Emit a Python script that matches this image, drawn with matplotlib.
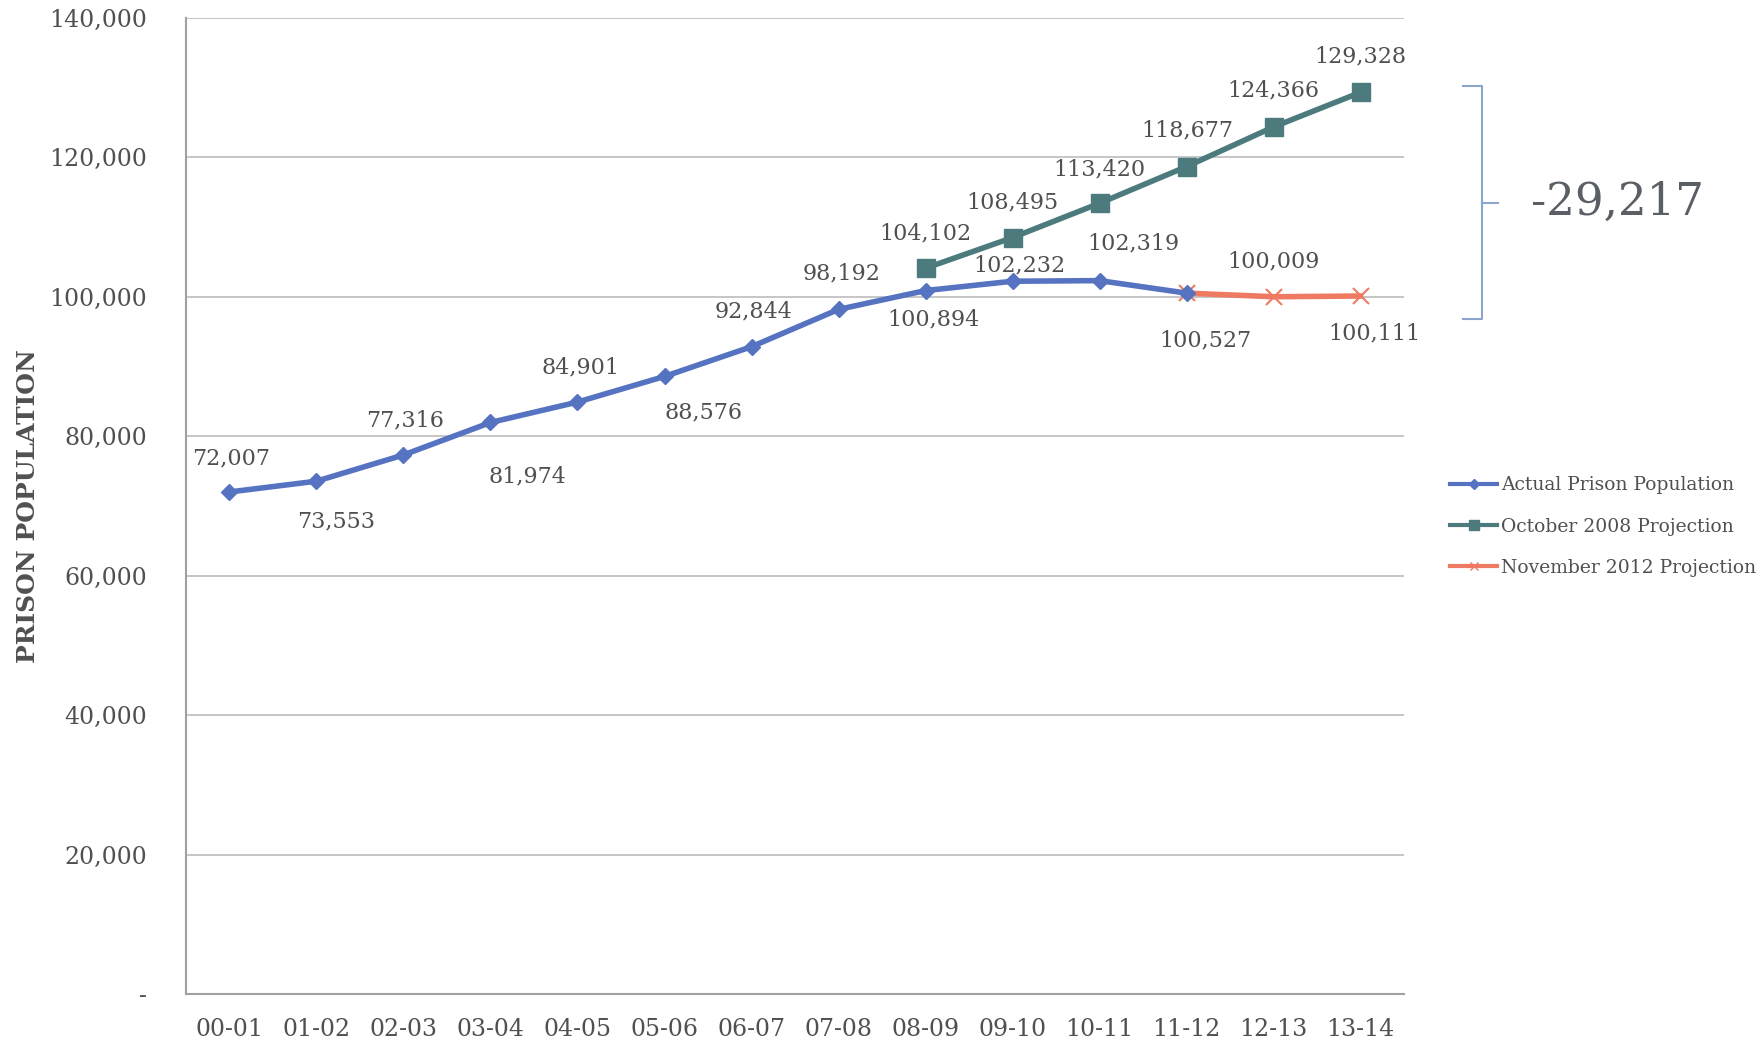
import matplotlib
matplotlib.use("Agg")
import matplotlib.pyplot as plt
from matplotlib.lines import Line2D
from matplotlib.ticker import FixedLocator

plt.rcParams["font.family"] = ["DejaVu Serif"]

years = ["00-01", "01-02", "02-03", "03-04", "04-05", "05-06", "06-07",
         "07-08", "08-09", "09-10", "10-11", "11-12", "12-13", "13-14"]

actual = [72007, 73553, 77316, 81974, 84901, 88576, 92844,
          98192, 100894, 102232, 102319, 100527]
oct2008 = [104102, 108495, 113420, 118677, 124366, 129328]
nov2012 = [100527, 100009, 100111]

actual_x = list(range(0, 12))
oct_x = list(range(8, 14))
nov_x = list(range(11, 14))

# label offsets in pixels (dx, dy) relative to each marker
actual_off = [(2, 34), (20, -40), (2, 35), (37, -54), (3, 35), (39, -36),
              (2, 35), (3, 36), (8, -29), (7, 16), (34, 37), (19, -47)]
oct_off = [(0, 35), (0, 35), (0, 34), (1, 36), (0, 36), (0, 36)]
nov_off = [None, (0, 35), (14, -37)]

blue = "#5673c2"
teal = "#4d7b7d"
salmon = "#ef7a62"
txt = "#505050"
grid = "#bcbcbc"

fig = plt.figure(figsize=(17.64, 10.53), dpi=100)
ax = fig.add_axes([0.1054, 0.056, 0.796 - 0.1054, 0.983 - 0.056])

ax.plot(actual_x, actual, color=blue, lw=4, marker="D", ms=8.5, zorder=4)
ax.plot(oct_x, oct2008, color=teal, lw=4, marker="s", ms=13, zorder=3)
ax.plot(nov_x, nov2012, color=salmon, lw=4, marker="x", ms=11, mew=1.5, zorder=3)


def label(xs, ys, offs):
    for x, y, off in zip(xs, ys, offs):
        if off is None:
            continue
        ax.annotate(f"{y:,}", (x, y), xytext=off, textcoords="offset pixels",
                    ha="center", va="center", fontsize=16, color=txt)


label(actual_x, actual, actual_off)
label(oct_x, oct2008, oct_off)
label(nov_x, nov2012, nov_off)

ax.set_xlim(-0.5, 13.5)
ax.set_ylim(0, 140000)
ax.set_xticks(range(len(years)))
ax.set_xticklabels(years)
ax.yaxis.set_major_locator(FixedLocator(range(0, 140001, 20000)))
ax.set_yticklabels(["-"] + [f"{v:,}" for v in range(20000, 140001, 20000)])
ax.tick_params(axis="both", length=0, labelsize=17, labelcolor=txt)
ax.tick_params(axis="x", pad=17)
ax.tick_params(axis="y", pad=28)

ax.grid(axis="y", color=grid, lw=1.2)
ax.set_axisbelow(True)
for side in ["top", "right"]:
    ax.spines[side].set_visible(False)
for side in ["left", "bottom"]:
    ax.spines[side].set_color("#a0a0a0")
    ax.spines[side].set_linewidth(1.5)

ax.set_ylabel("PRISON POPULATION", fontsize=18, fontweight="bold", color=txt)
ax.yaxis.set_label_coords(-0.12, 0.5)

# bracket showing the gap between the two projections at 13-14
bx = 14.39
top, bot = 130200, 96800
bracket = "#8aa6cc"
ax.plot([14.18, bx, bx, 14.18], [top, top, bot, bot], color=bracket,
        lw=1.5, clip_on=False)
mid = (top + bot) / 2
ax.plot([bx, 14.58], [mid, mid], color=bracket, lw=1.5, clip_on=False)
ax.text(14.96, mid, f"{nov2012[-1] - oct2008[-1]:,}", fontsize=32.5,
        color="#5a5f66", va="center", ha="left")

handles = [
    Line2D([], [], color=blue, lw=3, marker="D", ms=5),
    Line2D([], [], color=teal, lw=3, marker="s", ms=7),
    Line2D([], [], color=salmon, lw=3, marker="x", ms=6),
]
names = ["Actual Prison Population", "October 2008 Projection",
         "November 2012 Projection"]
leg = fig.legend(handles, names, loc="upper left", bbox_to_anchor=(0.818, 0.555),
                 frameon=False, fontsize=13.5, handlelength=2.5, handletextpad=0.2,
                 labelspacing=1.25, borderaxespad=0)
for t in leg.get_texts():
    t.set_color(txt)

fig.savefig("out.png", dpi=100)
